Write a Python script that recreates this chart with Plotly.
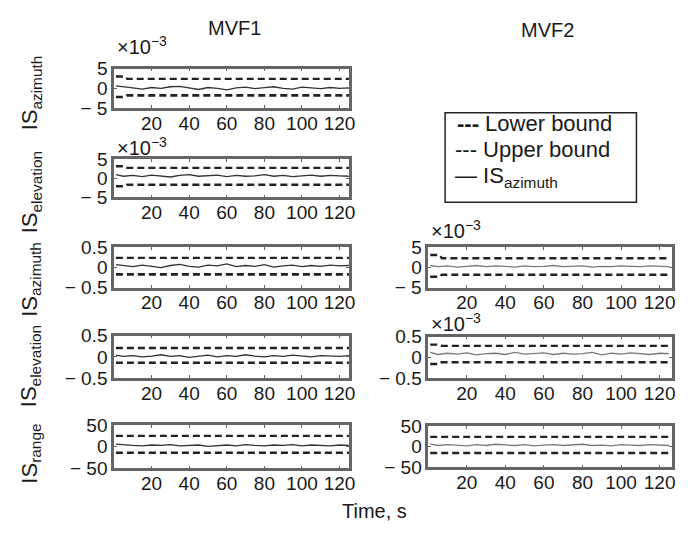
import plotly.graph_objects as go

W, H = 693, 537

# ---------------- data ----------------
t = [1, 5, 10, 15, 20, 25, 30, 35, 40, 45, 50, 55, 60, 65, 70, 75, 80, 85, 90, 95, 100, 105, 110, 115, 120, 125]
t_bound = [1, 6, 7, 125]

# MVF1 azimuth (x1e-3)
mvf1_az_is = [0.6, 0.3, 0.1, -0.2, 0.2, 0.0, 0.4, 0.5, 0.1, -0.3, 0.2, 0.0, -0.4, 0.1, 0.3, -0.1, 0.2, 0.4, 0.0, -0.2, 0.3, 0.1, -0.1, 0.2, 0.0, 0.1]
mvf1_az_up = [3.0, 3.0, 2.4, 2.4]
mvf1_az_lo = [-2.2, -2.2, -1.8, -1.8]
# MVF1 elevation (x1e-3)
mvf1_el_is = [0.9, 0.5, 0.7, 0.4, 0.8, 0.6, 0.3, 0.7, 0.9, 0.5, 0.6, 0.8, 0.4, 0.7, 0.5, 0.6, 0.9, 0.5, 0.7, 0.4, 0.6, 0.8, 0.5, 0.7, 0.6, 0.5]
mvf1_el_up = [3.1, 3.1, 2.7, 2.7]
mvf1_el_lo = [-2.1, -2.1, -1.7, -1.7]
# MVF1 azimuth
mvf1_az2_is = [0.07, 0.05, 0.02, 0.06, 0.03, 0.0, 0.05, 0.08, 0.03, 0.01, 0.06, 0.04, 0.09, 0.02, 0.05, 0.03, 0.07, 0.01, 0.04, 0.06, 0.02, 0.05, 0.03, 0.06, 0.04, 0.05]
mvf1_az2_up = [0.24, 0.24, 0.24, 0.24]
mvf1_az2_lo = [-0.17, -0.17, -0.17, -0.17]
# MVF1 elevation
mvf1_el2_is = [0.04, 0.01, 0.03, 0.0, 0.02, 0.05, 0.01, 0.03, -0.01, 0.02, 0.04, 0.0, 0.03, 0.01, 0.05, 0.02, 0.0, 0.03, 0.01, 0.04, 0.02, 0.0, 0.03, 0.02, 0.01, 0.03]
mvf1_el2_up = [0.21, 0.21, 0.21, 0.21]
mvf1_el2_lo = [-0.14, -0.14, -0.14, -0.14]
# MVF1 range
mvf1_rg_is = [6, 4, 3, 2, 4, 3, 5, 2, 3, 4, 1, 3, 4, 2, 5, 3, 2, 4, 3, 5, 2, 4, 3, 2, 4, 3]
mvf1_rg_up = [25, 25, 25, 25]
mvf1_rg_lo = [-14, -14, -14, -14]
# MVF2 azimuth (x1e-3)
mvf2_az_is = [0.5, 0.2, 0.4, 0.1, 0.3, 0.5, 0.2, 0.4, 0.3, 0.1, 0.4, 0.2, 0.3, 0.5, 0.2, 0.3, 0.4, 0.1, 0.3, 0.2, 0.4, 0.3, 0.2, 0.4, 0.3, 0.2]
mvf2_az_up = [3.1, 3.1, 2.3, 2.3]
mvf2_az_lo = [-2.3, -2.3, -1.8, -1.8]
# MVF2 elevation (x1e-3)
mvf2_el_is = [0.12, 0.07, 0.1, 0.08, 0.11, 0.06, 0.09, 0.1, 0.07, 0.12, 0.08, 0.09, 0.11, 0.07, 0.1, 0.08, 0.09, 0.12, 0.06, 0.1, 0.08, 0.11, 0.09, 0.07, 0.1, 0.09]
mvf2_el_up = [0.31, 0.31, 0.28, 0.28]
mvf2_el_lo = [-0.16, -0.16, -0.12, -0.12]
# MVF2 range
mvf2_rg_is = [7, 3, 5, 4, 2, 5, 3, 6, 4, 3, 5, 2, 4, 5, 3, 4, 6, 3, 4, 2, 5, 4, 3, 5, 4, 3]
mvf2_rg_up = [24, 24, 24, 24]
mvf2_rg_lo = [-15, -15, -15, -15]

x_ticks = [20, 40, 60, 80, 100, 120]
y_ticks_5 = [-5, 0, 5]
y_text_5 = ["\u2212 5", "0", "5"]
y_ticks_05 = [-0.5, 0, 0.5]
y_text_05 = ["\u2212 0.5", "0", "0.5"]
y_ticks_50 = [-50, 0, 50]
y_text_50 = ["\u2212 50", "0", "50"]

legend_labels = ["Lower bound", "Upper bound", "IS<sub>azimuth</sub>"]

# ---------------- layout helpers ----------------
FONT = "Liberation Sans, Arial, Helvetica, sans-serif"
TXT = "#1a1a1a"
FRAME = "#666666"

def px_x(p):
    return p / W

def px_y(p):
    return 1 - p / H

panels = [
    ((115, 352), (61, 102), (-5, 5), y_ticks_5, y_text_5, mvf1_az_is, mvf1_az_up, mvf1_az_lo, 125, "#333333"),
    ((115, 352), (155, 195), (-5, 5), y_ticks_5, y_text_5, mvf1_el_is, mvf1_el_up, mvf1_el_lo, 125, "#333333"),
    ((115, 352), (247, 289), (-0.5, 0.5), y_ticks_05, y_text_05, mvf1_az2_is, mvf1_az2_up, mvf1_az2_lo, 125, "#333333"),
    ((115, 352), (339, 383), (-0.5, 0.5), y_ticks_05, y_text_05, mvf1_el2_is, mvf1_el2_up, mvf1_el2_lo, 125, "#333333"),
    ((115, 352), (432, 477), (-50, 50), y_ticks_50, y_text_50, mvf1_rg_is, mvf1_rg_up, mvf1_rg_lo, 125, "#333333"),
    ((432, 678), (247, 289), (-5, 5), y_ticks_5, y_text_5, mvf2_az_is, mvf2_az_up, mvf2_az_lo, 126.5, "#7a7a7a"),
    ((432, 678), (340, 383), (-0.5, 0.5), y_ticks_05, y_text_05, mvf2_el_is, mvf2_el_up, mvf2_el_lo, 126.5, "#7a7a7a"),
    ((432, 678), (433, 476), (-50, 50), y_ticks_50, y_text_50, mvf2_rg_is, mvf2_rg_up, mvf2_rg_lo, 126.5, "#7a7a7a"),
]

fig = go.Figure()
layout = dict(
    width=W, height=H,
    margin=dict(l=0, r=0, t=0, b=0, pad=0),
    paper_bgcolor="white", plot_bgcolor="white",
    font=dict(family=FONT, size=19, color=TXT),
    showlegend=False,
)

for i, (xc, yc, yr, ytv, ytt, isv, up, lo, xmax, iscol) in enumerate(panels):
    n = i + 1
    xa = "x" if n == 1 else f"x{n}"
    ya = "y" if n == 1 else f"y{n}"
    fig.add_trace(go.Scatter(x=t_bound, y=lo, mode="lines", xaxis=xa, yaxis=ya,
                             line=dict(color="#222222", width=2.6, dash="7px,4px"),
                             name=legend_labels[0]))
    fig.add_trace(go.Scatter(x=t_bound, y=up, mode="lines", xaxis=xa, yaxis=ya,
                             line=dict(color="#222222", width=2.3, dash="7px,4px"),
                             name=legend_labels[1]))
    fig.add_trace(go.Scatter(x=t, y=isv, mode="lines", xaxis=xa, yaxis=ya,
                             line=dict(color=iscol, width=1.3),
                             name=legend_labels[2]))
    key_x = "xaxis" if n == 1 else f"xaxis{n}"
    key_y = "yaxis" if n == 1 else f"yaxis{n}"
    layout[key_x] = dict(
        domain=[px_x(xc[0]), px_x(xc[1])], anchor=ya, range=[0, xmax],
        tickvals=x_ticks, ticks="inside", ticklen=3, tickcolor=FRAME,
        showline=True, linecolor=FRAME, linewidth=2.5, mirror="ticks",
        showgrid=False, zeroline=False, ticklabelstandoff=-4,
        tickfont=dict(size=19),
    )
    layout[key_y] = dict(
        domain=[px_y(yc[1]), px_y(yc[0])], anchor=xa, range=list(yr),
        tickvals=ytv, ticktext=ytt, ticks="inside", ticklen=3, tickcolor=FRAME,
        showline=True, linecolor=FRAME, linewidth=2.5, mirror="ticks",
        showgrid=False, zeroline=False,
        tickfont=dict(size=19),
    )

annotations = []
def ann(text, x, y, size=19, angle=0, xanchor="center", yanchor="middle"):
    annotations.append(dict(text=text, x=px_x(x), y=px_y(y), xref="paper", yref="paper",
                            showarrow=False, textangle=angle, xanchor=xanchor, yanchor=yanchor,
                            font=dict(family=FONT, size=size, color=TXT)))

ann("MVF1", 237, 19, size=20)
ann("MVF2", 552, 21, size=20)
ann("Time, s", 378, 521, size=20)

# exponent labels
ann("\u00d710<sup>\u22123</sup>", 116, 37, size=20, xanchor="left")
ann("\u00d710<sup>\u22123</sup>", 116, 142, size=20, xanchor="left")
ann("\u00d710<sup>\u22123</sup>", 433, 228, size=20, xanchor="left")
ann("\u00d710<sup>\u22123</sup>", 433, 325, size=20, xanchor="left")

# y-axis titles
ann("IS<sub>azimuth</sub>", 31, 86, size=22, angle=-90)
ann("IS<sub>elevation</sub>", 31, 190, size=22, angle=-90)
ann("IS<sub>azimuth</sub>", 31, 280, size=22, angle=-90)
ann("IS<sub>elevation</sub>", 31, 371, size=22, angle=-90)
ann("IS<sub>range</sub>", 31, 462, size=22, angle=-90)

# legend (MATLAB-style text samples)
ann("<b>---</b> " + legend_labels[0], 459, 118, size=22, xanchor="left")
ann("--- " + legend_labels[1], 457, 145, size=22, xanchor="left")
ann("\u2014 " + legend_labels[2], 457, 174, size=22, xanchor="left")

layout["annotations"] = annotations
layout["shapes"] = [dict(type="rect", xref="paper", yref="paper",
                         x0=px_x(449), x1=px_x(642), y0=px_y(200), y1=px_y(107),
                         line=dict(color="#222222", width=1.5), fillcolor="rgba(0,0,0,0)")]
fig.update_layout(**layout)
fig.write_html("out.html")
